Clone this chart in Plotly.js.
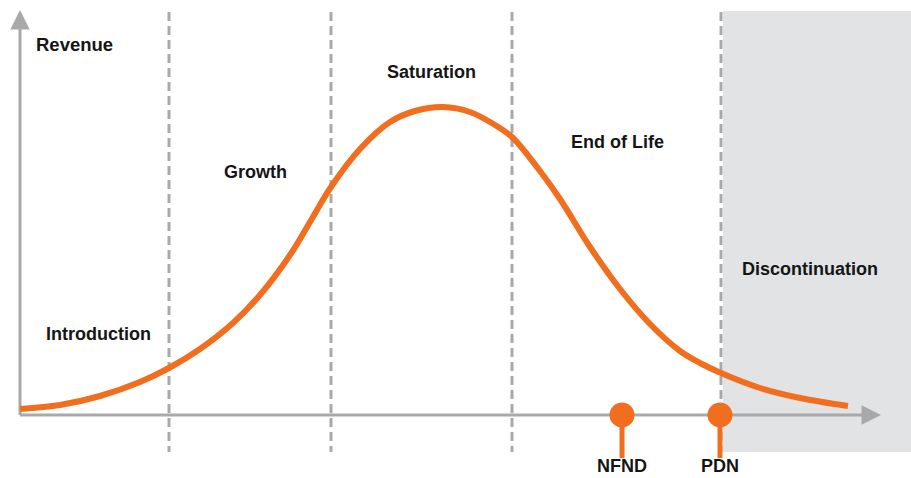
<!DOCTYPE html>
<html>
<head>
<meta charset="utf-8">
<script src="https://cdn.plot.ly/plotly-3.0.1.min.js"></script>
<style>html,body{margin:0;padding:0;background:#fff;}#chart{width:911px;height:478px;}</style>
</head>
<body>
<div id="chart"></div>
<script>
// Product life cycle curve (time position, revenue)
const curveTime = [20, 60, 100, 140, 169, 200, 233, 260, 290, 310, 331, 360, 390, 415, 443, 470, 495, 512, 540, 560, 590, 620, 650, 680, 700, 721, 760, 800, 848];
const curveRevenue = [6, 10, 19, 33, 47, 66, 92, 120, 160, 193, 228, 266, 293, 304, 308, 303, 290, 278, 244, 216, 168, 126, 91, 64, 52, 42, 27, 17, 9];

// Stage boundaries (dashed lines) and stage labels
const stageBoundaries = [169, 331, 512, 721];
const stageNames = ['Introduction', 'Growth', 'Saturation', 'End of Life', 'Discontinuation'];
const stageLabelX = [98, 255, 431, 617, 810];
const stageLabelY = [81, 243, 343, 273, 146];

// Milestones
const milestoneNames = ['NFND', 'PDN'];
const milestoneX = [622, 720];

const orange = '#F26E1F';
const gray = '#A9A9A9';
const font = {family: 'Liberation Sans, Arial, sans-serif', size: 18, color: '#151515', weight: 700};

const traces = [];
traces.push({
  x: curveTime, y: curveRevenue, mode: 'lines', type: 'scatter',
  line: {color: orange, width: 6, shape: 'spline', smoothing: 1},
  hoverinfo: 'skip'
});
milestoneX.forEach((mx) => {
  traces.push({
    x: [mx, mx], y: [0, -43], mode: 'lines', type: 'scatter',
    line: {color: orange, width: 5}, hoverinfo: 'skip'
  });
});
traces.push({
  x: milestoneX, y: milestoneX.map(() => 0), mode: 'markers', type: 'scatter',
  marker: {color: orange, size: 25, line: {width: 0}}, hoverinfo: 'skip'
});

const shapes = [];
shapes.push({
  type: 'rect', xref: 'x', yref: 'y', x0: 723, x1: 911, y0: -37, y1: 404,
  fillcolor: '#E2E3E5', line: {width: 0}, layer: 'below'
});
stageBoundaries.forEach((bx) => {
  shapes.push({
    type: 'line', xref: 'x', yref: 'y', x0: bx, x1: bx, y0: 403, y1: -37,
    line: {color: gray, width: 3, dash: '9px,5px'}, layer: 'below'
  });
});
shapes.push({
  type: 'line', xref: 'x', yref: 'y', x0: 20, x1: 870, y0: 0, y1: 0,
  line: {color: gray, width: 3}, layer: 'below'
});
shapes.push({
  type: 'line', xref: 'x', yref: 'y', x0: 20, x1: 20, y0: 0, y1: 395,
  line: {color: gray, width: 3}, layer: 'below'
});

const annotations = [];
// axis arrowheads
annotations.push({x: 881, y: 0, ax: 860, ay: 0, axref: 'x', ayref: 'y', xref: 'x', yref: 'y',
  text: '', showarrow: true, arrowhead: 2, arrowsize: 1.3, arrowwidth: 3, arrowcolor: gray});
annotations.push({x: 20, y: 405, ax: 20, ay: 385, axref: 'x', ayref: 'y', xref: 'x', yref: 'y',
  text: '', showarrow: true, arrowhead: 2, arrowsize: 1.3, arrowwidth: 3, arrowcolor: gray});
annotations.push({x: 74, y: 371, xref: 'x', yref: 'y', text: 'Revenue', showarrow: false,
  font: Object.assign({}, font, {size: 18.5})});
stageNames.forEach((name, i) => {
  annotations.push({x: stageLabelX[i], y: stageLabelY[i], xref: 'x', yref: 'y', text: name,
    showarrow: false, font: font});
});
milestoneNames.forEach((name, i) => {
  annotations.push({x: milestoneX[i], y: -51, xref: 'x', yref: 'y', text: name,
    showarrow: false, font: font});
});

const layout = {
  width: 911, height: 478,
  margin: {l: 0, r: 0, t: 0, b: 0},
  paper_bgcolor: '#ffffff', plot_bgcolor: 'rgba(0,0,0,0)',
  showlegend: false,
  xaxis: {range: [0, 911], visible: false, fixedrange: true},
  yaxis: {range: [-63, 415], visible: false, fixedrange: true},
  shapes: shapes, annotations: annotations
};

Plotly.newPlot('chart', traces, layout, {displayModeBar: false, staticPlot: true});
</script>
</body>
</html>
